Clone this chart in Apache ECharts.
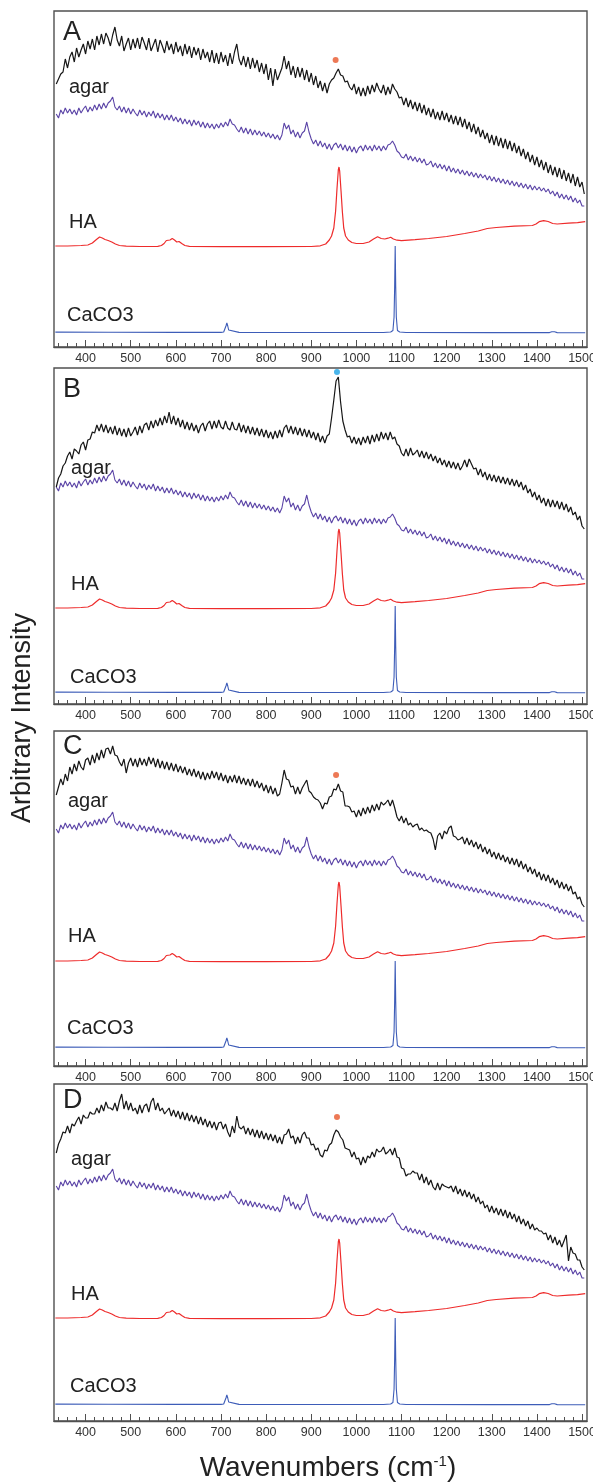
<!DOCTYPE html>
<html><head><meta charset="utf-8">
<script src="https://cdn.jsdelivr.net/npm/echarts@6/dist/echarts.min.js"></script>
<style>html,body{margin:0;padding:0;background:#fff}#c{width:593px;height:1483px}</style>
</head><body><div id="c"></div>
<script>
// ---------------- DATA ----------------
// noisy spectra sampled every 5 cm-1 starting at 335 cm-1 (arbitrary intensity units)
const sampleStart = 335, sampleStep = 5;

const blackA = [
263,268,273,275,288,279,290,295,285,299,
290,297,303,293,306,298,308,297,311,302,
313,303,314,309,301,312,320,307,301,311,
296,303,309,297,308,299,309,298,310,304,
297,309,296,302,308,295,307,301,294,306,
297,303,293,305,295,301,291,303,293,301,
289,300,292,299,287,298,289,295,285,297,
284,294,283,295,285,292,281,294,283,295,
303,288,282,291,280,290,278,289,279,287,
275,284,273,283,267,279,261,278,267,273,
279,291,278,286,272,281,269,280,270,279,
267,277,265,274,262,271,259,266,256,264,
254,263,267,269,274,278,272,271,265,266,
260,257,263,253,260,251,259,251,261,253,
262,255,264,258,254,262,252,260,253,263,
258,255,249,250,242,249,240,247,238,245,
236,244,234,242,232,239,230,238,228,235,
227,236,227,234,225,232,223,231,222,230,
220,228,218,225,215,223,213,220,210,217,
208,214,204,212,202,211,201,209,199,208,
198,206,196,204,194,201,191,198,188,195,
185,192,182,190,180,187,177,185,174,182,
172,180,170,179,168,177,166,174,164,173,
161,170,160,165,153];

const blackB = [
217,226,230,238,241,248,252,245,255,253,
250,259,262,254,264,265,272,271,279,273,
280,272,279,271,277,270,278,269,276,268,
275,267,276,268,272,277,269,278,271,279,
281,274,283,276,284,278,286,279,288,281,
292,280,288,279,286,277,284,275,282,274,
281,273,279,271,278,281,273,280,283,275,
283,276,284,277,275,283,276,274,282,275,
274,281,272,279,271,278,270,277,269,276,
268,275,267,274,266,272,265,273,266,274,
267,276,279,271,278,270,277,269,276,268,
275,267,274,266,272,264,271,262,268,261,
268,270,286,304,323,327,302,283,274,267,
268,261,267,260,266,259,267,261,268,260,
269,262,270,263,272,265,271,264,272,265,
267,260,258,251,248,255,248,256,249,251,
254,247,253,246,252,245,250,243,248,241,
246,239,244,237,243,236,242,235,241,234,
238,244,237,245,240,235,236,229,235,227,
232,224,230,223,229,222,228,221,227,220,
226,219,225,218,224,217,222,214,219,211,
215,207,212,204,209,201,206,198,205,197,
204,197,203,195,202,194,200,192,197,189,
192,184,188,178,175];

const blackC = [
271,279,287,281,292,285,299,292,302,295,
305,299,296,306,308,301,311,303,313,306,
316,308,317,318,312,320,311,310,304,300,
307,293,303,308,300,307,299,308,301,307,
300,309,302,308,299,307,298,305,297,304,
296,303,295,302,294,300,293,299,291,297,
290,297,289,295,287,294,286,293,287,295,
288,294,286,293,285,291,283,290,284,291,
283,290,282,288,281,287,280,287,279,285,
278,283,275,281,273,280,272,278,270,272,
283,296,287,286,279,280,272,279,272,278,
282,286,275,273,269,267,266,263,257,263,
262,269,270,277,276,282,275,274,260,260,
259,254,255,249,256,250,258,252,259,253,
261,255,262,256,264,261,263,266,260,266,
258,249,245,250,243,248,241,243,239,241,
242,236,238,235,236,234,233,227,216,230,
233,227,235,232,238,240,230,229,226,227,
229,222,228,221,226,219,224,217,222,214,
219,212,217,209,214,207,213,206,211,204,
209,202,208,201,207,199,205,197,202,194,
199,192,197,189,194,186,192,185,191,183,
188,181,186,178,184,177,182,175,180,172,
174,167,169,162,159];

const blackD = [
268,277,282,289,288,295,288,297,295,300,
304,297,306,303,303,309,307,307,313,308,
316,310,319,313,313,311,318,310,320,327,
312,320,311,318,310,313,307,316,308,315,
317,309,319,323,311,318,310,313,307,310,
313,305,311,304,310,302,309,301,308,300,
306,299,305,297,304,296,302,294,300,293,
299,291,298,299,292,297,289,284,295,288,
305,294,292,295,287,293,286,292,284,291,
283,290,282,288,281,287,280,286,278,284,
277,286,287,292,283,285,277,284,278,286,
289,283,283,276,277,271,273,266,264,271,
270,276,278,286,291,289,284,281,273,272,
271,264,269,262,263,256,264,258,265,263,
269,264,272,269,270,274,267,269,272,266,
273,264,263,253,252,245,247,247,250,248,
248,241,247,238,244,236,241,234,231,238,
231,237,235,234,233,235,229,235,227,232,
225,231,224,229,222,227,219,224,217,220,
213,216,209,215,208,213,206,212,205,211,
203,209,202,207,199,205,197,202,195,200,
192,197,191,193,190,190,187,188,181,186,
178,184,176,181,174,180,186,160,174,168,
167,161,161,154,151];

const agarShape = [
233,229,237,233,239,234,238,233,237,232,
239,234,238,241,235,240,236,242,237,243,
238,244,239,244,246,250,240,237,241,235,
240,234,239,233,238,234,231,237,232,236,
230,235,231,236,229,234,229,233,227,232,
227,232,226,230,225,229,223,228,223,227,
221,227,222,226,220,225,219,224,219,223,
218,223,219,224,220,225,221,228,223,222,
218,215,220,214,219,213,218,212,217,212,
216,211,215,210,214,209,213,208,212,207,
212,224,218,222,213,217,210,215,209,214,
216,225,215,208,203,207,201,206,200,204,
198,203,197,202,204,199,203,197,202,196,
201,195,200,194,199,201,196,202,197,201,
196,202,197,201,196,201,197,202,203,206,
202,196,194,190,189,193,187,191,186,190,
185,189,184,188,182,183,186,180,184,179,
183,178,182,176,181,175,179,174,178,173,
177,172,176,171,175,170,174,169,173,169,
172,167,171,166,170,165,169,164,168,163,
167,162,166,161,165,160,164,159,163,158,
162,157,161,157,160,156,159,155,158,153,
156,151,155,149,153,148,152,147,151,145,
149,144,147,141,141];

// [wavenumber, intensity]
const haShape = [[333,101],[360,101],[390,101.5],[405,102],[415,104],[424,107.5],[431,110],[437,109],[443,107.5],[450,106.5],[458,105],[466,103],[475,101.5],[490,100.8],[520,100.5],[560,100.6],[568,101.5],[574,103.5],[579,106.5],[583,108],[587,107],[592,108.5],[597,107],[602,105],[607,105.5],[613,103.5],[620,101.5],[630,100.6],[700,100.4],[800,100.3],[900,100.5],[920,101.2],[932,103],[940,107],[945,111],[950,119],[954,136],[957,158],[960,177],[961.5,180],[963,176],[966,156],[969,135],[972,119],[976,111],[982,107],[990,104.5],[1000,103.5],[1015,103.5],[1028,105],[1038,108],[1047,110.3],[1055,108.5],[1063,108],[1070,108.8],[1076,109.7],[1082,108],[1090,106.8],[1100,106.3],[1130,107.3],[1160,108.5],[1200,110.5],[1240,113.5],[1270,116],[1290,118.5],[1310,119.5],[1350,120.8],[1390,121.5],[1398,123],[1405,125.3],[1415,126.3],[1425,125.5],[1435,123.5],[1445,123],[1470,123.8],[1490,124.3],[1507,125.3]];

const caco3Shape = [[333,14.9],[450,14.8],[600,14.6],[700,14.6],[706,15],[709,17],[711,21],[713,24],[715,21],[717,17],[720,15],[740,14.6],[900,14.5],[1060,14.5],[1076,15],[1081,16.5],[1083.5,30],[1084.8,60],[1086,101],[1087.2,60],[1088.5,30],[1091,16.5],[1096,15],[1110,14.5],[1300,14.4],[1428,14.4],[1433,15.2],[1436,16.5],[1439,15.2],[1445,14.4],[1507,14.3]];

const panelNames = ['A','B','C','D'];
const blackSeries = [blackA, blackB, blackC, blackD];
const agarOffset = [0, -16, 4, 2];
const haOffset = [0, -5, 4, 2];
const caco3Offset = [0, -3, 4, 2];
const markerWn = [954, 957, 955, 957];
const markerY = [287, 332, 291, 304];
const markerColor = ['#e8582c', '#1ba3e6', '#e8582c', '#e8582c'];

const xMin = 330, xMax = 1511;
const majorTicks = [400,500,600,700,800,900,1000,1100,1200,1300,1400,1500];
const minorTicks = [340,360,380,400,420,440,460,480,500,520,540,560,580,600,620,640,660,680,700,720,740,760,780,800,820,840,860,880,900,920,940,960,980,1000,1020,1040,1060,1080,1100,1120,1140,1160,1180,1200,1220,1240,1260,1280,1300,1320,1340,1360,1380,1400,1420,1440,1460,1480,1500];

// ---------------- LAYOUT ----------------
const FONT = '"Liberation Sans", Arial, Helvetica, sans-serif';
const panels = [{top:11,h:336},{top:368,h:336},{top:731,h:335},{top:1084,h:337}];
const gridLeft = 54, gridWidth = 533;
const labelPos = [
  {letter:[63,33],   agar:[69,87],   ha:[69,222],  ca:[67,315]},
  {letter:[63,390],  agar:[71,468],  ha:[71,584],  ca:[70,677]},
  {letter:[63,747],  agar:[68,801],  ha:[68,936],  ca:[67,1028]},
  {letter:[63,1101], agar:[71,1159], ha:[71,1294], ca:[70,1386]}
];

function sampled(arr, off) {
  return arr.map((v, k) => [sampleStart + k * sampleStep, v + off]);
}
function shifted(pairs, off) {
  return pairs.map(p => [p[0], p[1] + off]);
}

const grid = [], xAxis = [], yAxis = [], series = [], graphic = [];
panels.forEach((p, i) => {
  grid.push({left: gridLeft, width: gridWidth, top: p.top, height: p.h, show: true,
    borderColor: '#505050', borderWidth: 1.4, backgroundColor: 'transparent', outerBoundsMode: 'none'});
  xAxis.push({gridIndex: i, type: 'value', min: xMin, max: xMax, position: 'bottom', offset: 0,
    axisLine: {show: true, lineStyle: {color: '#505050', width: 1.4}},
    axisTick: {show: true, inside: true, length: 7, customValues: majorTicks, lineStyle: {color: '#505050', width: 1}},
    axisLabel: {show: true, customValues: majorTicks, margin: 5, fontSize: 12.5, fontFamily: FONT, color: '#333',
      formatter: v => String(v), showMinLabel: true, showMaxLabel: true, hideOverlap: false},
    splitLine: {show: false}});
  xAxis.push({gridIndex: i, type: 'value', min: xMin, max: xMax, position: 'bottom', offset: 0,
    axisLine: {show: false},
    axisTick: {show: true, inside: true, length: 4, customValues: minorTicks, lineStyle: {color: '#505050', width: 1}},
    axisLabel: {show: false}, splitLine: {show: false}});
  yAxis.push({gridIndex: i, type: 'value', min: 0, max: p.h, show: false, splitLine: {show: false}});
  const base = {type: 'line', xAxisIndex: 2 * i, yAxisIndex: i, showSymbol: false, symbol: 'none',
    silent: true, animation: false, clip: true};
  series.push(Object.assign({}, base, {data: shifted(caco3Shape, caco3Offset[i]), lineStyle: {color: '#3d5cb8', width: 1.1}}));
  series.push(Object.assign({}, base, {data: shifted(haShape, haOffset[i]), lineStyle: {color: '#ee2b2b', width: 1.2}}));
  series.push(Object.assign({}, base, {data: sampled(agarShape, agarOffset[i]), lineStyle: {color: '#5a43a6', width: 1.1}}));
  series.push(Object.assign({}, base, {data: sampled(blackSeries[i], 0), lineStyle: {color: '#161616', width: 1.2}}));
  series.push({type: 'scatter', xAxisIndex: 2 * i, yAxisIndex: i, data: [[markerWn[i], markerY[i]]],
    symbolSize: 6, itemStyle: {color: markerColor[i]}, silent: true, animation: false});

  const lp = labelPos[i];
  const t = (pos, text, size) => ({type: 'text', x: pos[0], y: pos[1], silent: true,
    style: {text: text, font: size + 'px ' + FONT, fill: '#222', align: 'left', verticalAlign: 'middle'}});
  graphic.push(t(lp.letter, panelNames[i], 27));
  graphic.push(t(lp.agar, 'agar', 20));
  graphic.push(t(lp.ha, 'HA', 20));
  graphic.push(t(lp.ca, 'CaCO3', 20));
});

graphic.push({type: 'text', x: 23, y: 718, rotation: Math.PI / 2, silent: true,
  style: {text: 'Arbitrary Intensity', font: '27px ' + FONT, fill: '#222', align: 'center', verticalAlign: 'middle'}});
graphic.push({type: 'text', x: 328, y: 1468, silent: true,
  style: {text: '{t|Wavenumbers (cm}{s|-1}{t|)}', align: 'center', verticalAlign: 'middle',
    rich: {t: {fontSize: 28, fontFamily: FONT, fill: '#222'},
           s: {fontSize: 15, fontFamily: FONT, fill: '#222', verticalAlign: 'top'}}}});

const chart = echarts.init(document.getElementById('c'), null, {renderer: 'canvas'});
chart.setOption({animation: false, backgroundColor: '#fff', grid, xAxis, yAxis, series, graphic});
</script></body></html>
